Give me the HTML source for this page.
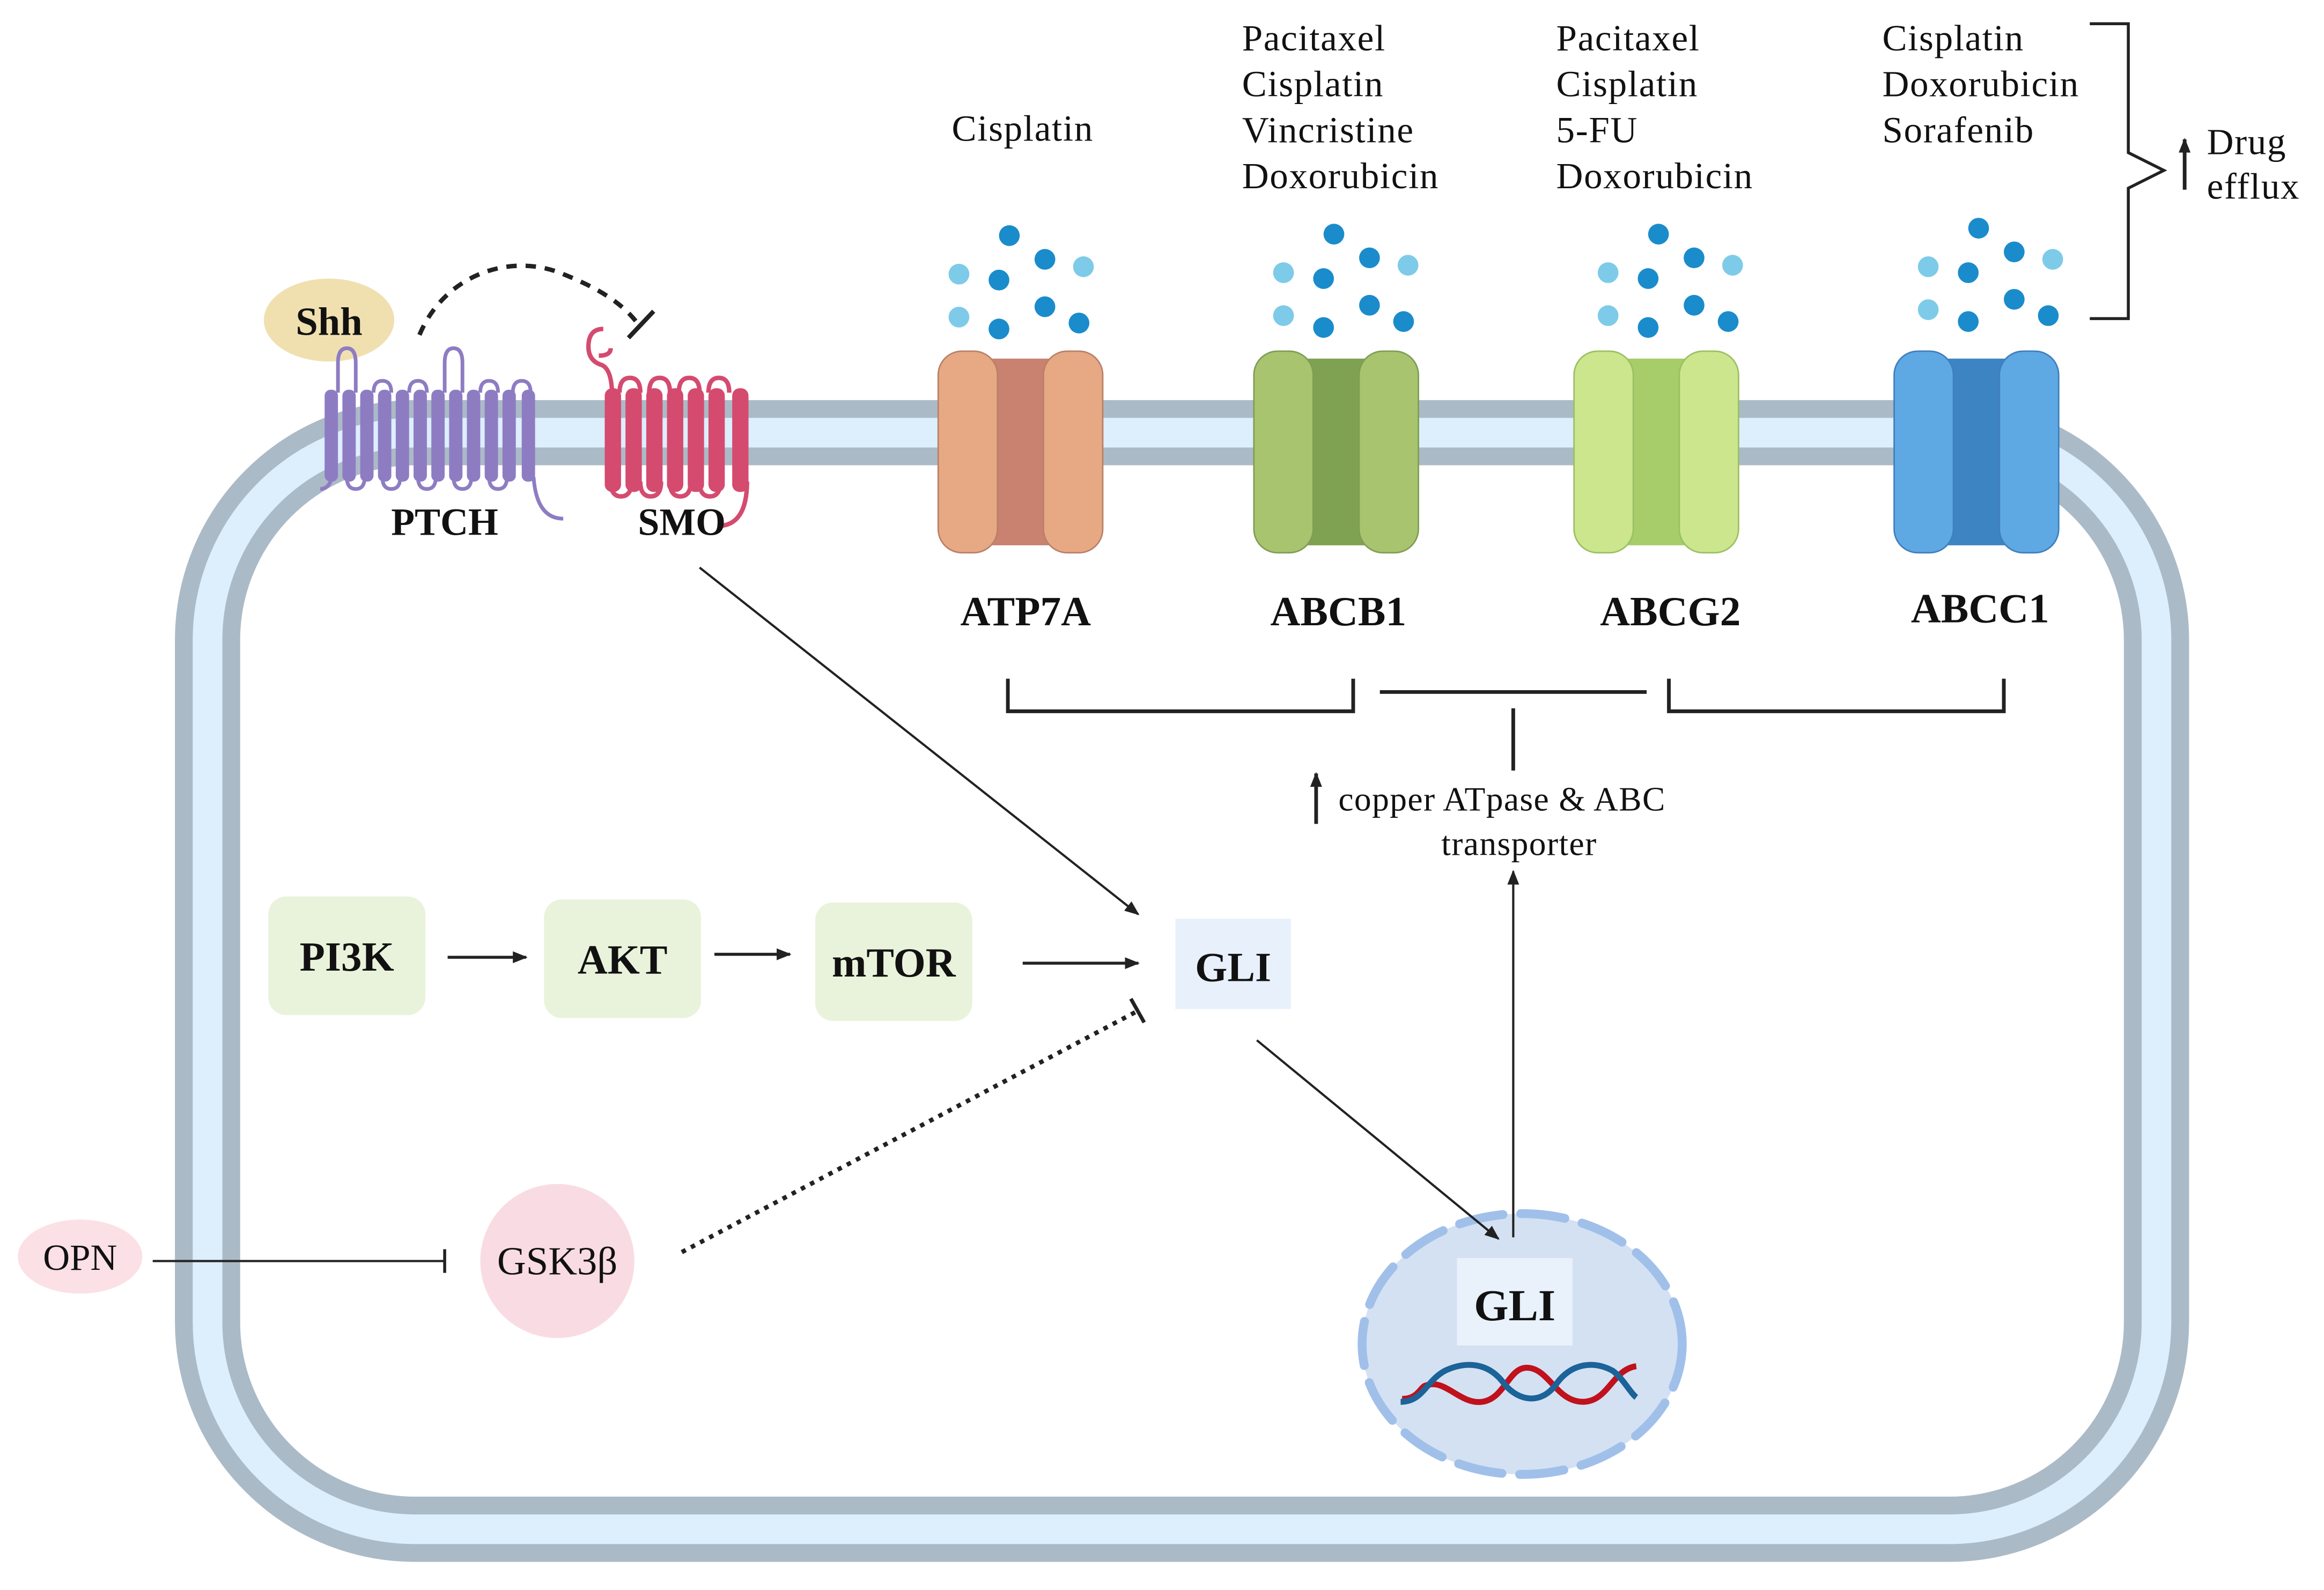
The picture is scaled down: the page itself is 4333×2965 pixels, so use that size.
<!DOCTYPE html>
<html><head><meta charset="utf-8"><style>
html,body{margin:0;padding:0;background:#fff}
svg{display:block}
text{font-family:"Liberation Serif",serif;fill:#111}
</style></head><body>
<svg width="4333" height="2965" viewBox="0 0 1568 1073" xmlns="http://www.w3.org/2000/svg">
<defs>
<marker id="ah" markerWidth="10" markerHeight="10" refX="9" refY="5" orient="auto" markerUnits="userSpaceOnUse"><path d="M0,1 L10,5 L0,9 z" fill="#222"/></marker>
</defs>
<!-- cell membrane -->
<rect x="140" y="292" width="1315" height="740" rx="140" fill="#fff" stroke="#abbac7" stroke-width="44"/>
<rect x="140" y="292" width="1315" height="740" rx="140" fill="none" stroke="#ddeefc" stroke-width="20"/>

<!-- Shh -->
<ellipse cx="222" cy="216" rx="44" ry="28" fill="#f0e0b0"/>
<text x="222" y="226" font-size="27" font-weight="bold" text-anchor="middle">Shh</text>
<path d="M283,226 C300,185 345,170 380,185 C405,195 420,205 430,218" fill="none" stroke="#222" stroke-width="3" stroke-dasharray="7,6"/>
<line x1="424" y1="228" x2="441" y2="210" stroke="#222" stroke-width="3"/>

<!-- PTCH -->
<g stroke="#8e7cc3" fill="none" stroke-width="2.5">
<path d="M216,330 q6,0 8,-8 M228,245 q0,-10 6,-10 q6,0 6,10 M252,265 q0,-8 6,-8 q6,0 6,8 M276,265 q0,-8 6,-8 q6,0 6,8 M300,245 q0,-10 6,-10 q6,0 6,10 M324,265 q0,-8 6,-8 q6,0 6,8 M346,265 q0,-8 6,-8 q6,0 6,8"/>
<path d="M234,322 q0,8 6,8 q6,0 6,-8 M258,322 q0,8 6,8 q6,0 6,-8 M282,322 q0,8 6,8 q6,0 6,-8 M306,322 q0,8 6,8 q6,0 6,-8 M330,322 q0,8 6,8 q6,0 6,-8"/>
<path d="M360,322 q2,28 20,28"/>
<path d="M228,245 v20 M240,245 v20 M300,245 v20 M312,245 v20"/>
</g>
<g fill="#8e7cc3">
<rect x="219" y="263" width="9" height="62" rx="4"/><rect x="231" y="263" width="9" height="62" rx="4"/><rect x="243" y="263" width="9" height="62" rx="4"/><rect x="255" y="263" width="9" height="62" rx="4"/><rect x="267" y="263" width="9" height="62" rx="4"/><rect x="279" y="263" width="9" height="62" rx="4"/><rect x="291" y="263" width="9" height="62" rx="4"/><rect x="303" y="263" width="9" height="62" rx="4"/><rect x="315" y="263" width="9" height="62" rx="4"/><rect x="327" y="263" width="9" height="62" rx="4"/><rect x="339" y="263" width="9" height="62" rx="4"/><rect x="352" y="263" width="9" height="62" rx="4"/>
</g>
<text x="300" y="361" font-size="26" font-weight="bold" text-anchor="middle">PTCH</text>

<!-- SMO -->
<g stroke="#d44b6f" fill="none" stroke-width="3">
<path d="M413,268 q0,-20 -8,-22 q-8,-3 -8,-12 q0,-12 10,-12 M404,240 q8,0 8,-5"/>
<path d="M418,265 q0,-10 7,-10 q7,0 7,10 M438,265 q0,-10 7,-10 q7,0 7,10 M458,265 q0,-10 7,-10 q7,0 7,10 M478,265 q0,-10 7,-10 q7,0 7,10"/>
<path d="M412,325 q0,10 7,10 q7,0 7,-10 M432,325 q0,10 7,10 q7,0 7,-10 M452,325 q0,10 7,10 q7,0 7,-10 M472,325 q0,10 7,10 q7,0 7,-10 M504,325 q0,30 -20,30"/>
</g>
<g fill="#d44b6f">
<rect x="408" y="262" width="11" height="70" rx="5"/><rect x="422" y="262" width="11" height="70" rx="5"/><rect x="436" y="262" width="11" height="70" rx="5"/><rect x="450" y="262" width="11" height="70" rx="5"/><rect x="464" y="262" width="11" height="70" rx="5"/><rect x="478" y="262" width="11" height="70" rx="5"/><rect x="494" y="262" width="11" height="70" rx="5"/>
</g>
<text x="460" y="361" font-size="26" font-weight="bold" text-anchor="middle">SMO</text>

<!-- transporters -->
<g>
<rect x="665" y="242" width="46" height="126" fill="#c98170"/>
<rect x="633" y="237" width="40" height="136" rx="16" fill="#e7a984" stroke="#b98068" stroke-width="1"/>
<rect x="704" y="237" width="40" height="136" rx="16" fill="#e7a984" stroke="#b98068" stroke-width="1"/>
</g>
<g>
<rect x="878" y="242" width="46" height="126" fill="#7ea152"/>
<rect x="846" y="237" width="40" height="136" rx="16" fill="#a8c46f" stroke="#809d55" stroke-width="1"/>
<rect x="917" y="237" width="40" height="136" rx="16" fill="#a8c46f" stroke="#809d55" stroke-width="1"/>
</g>
<g>
<rect x="1094" y="242" width="46" height="126" fill="#a6cd6a"/>
<rect x="1062" y="237" width="40" height="136" rx="16" fill="#cbe68d" stroke="#9cbf63" stroke-width="1"/>
<rect x="1133" y="237" width="40" height="136" rx="16" fill="#cbe68d" stroke="#9cbf63" stroke-width="1"/>
</g>
<g>
<rect x="1310" y="242" width="46" height="126" fill="#3d84c3"/>
<rect x="1278" y="237" width="40" height="136" rx="16" fill="#5ea8e3" stroke="#3f7fbd" stroke-width="1"/>
<rect x="1349" y="237" width="40" height="136" rx="16" fill="#5ea8e3" stroke="#3f7fbd" stroke-width="1"/>
</g>

<!-- dots -->
<g id="dots">
<circle cx="681" cy="159" r="7" fill="#1a8ccc"/><circle cx="647" cy="185" r="7" fill="#7dcbe8"/><circle cx="674" cy="189" r="7" fill="#1a8ccc"/><circle cx="705" cy="175" r="7" fill="#1a8ccc"/><circle cx="731" cy="180" r="7" fill="#7dcbe8"/><circle cx="647" cy="214" r="7" fill="#7dcbe8"/><circle cx="674" cy="222" r="7" fill="#1a8ccc"/><circle cx="705" cy="207" r="7" fill="#1a8ccc"/><circle cx="728" cy="218" r="7" fill="#1a8ccc"/>
</g>
<use href="#dots" x="219" y="-1"/>
<use href="#dots" x="438" y="-1"/>
<use href="#dots" x="654" y="-5"/>

<!-- drug lists -->
<g font-size="25" letter-spacing="0.6">
<text x="690" y="95" text-anchor="middle">Cisplatin</text>
<text x="838" y="34">Pacitaxel</text><text x="838" y="65">Cisplatin</text><text x="838" y="96">Vincristine</text><text x="838" y="127">Doxorubicin</text>
<text x="1050" y="34">Pacitaxel</text><text x="1050" y="65">Cisplatin</text><text x="1050" y="96">5-FU</text><text x="1050" y="127">Doxorubicin</text>
<text x="1270" y="34">Cisplatin</text><text x="1270" y="65">Doxorubicin</text><text x="1270" y="96">Sorafenib</text>
<text x="1489" y="104">Drug</text><text x="1489" y="134">efflux</text>
</g>
<path d="M1410,16 H1436 V103 L1460,115 L1436,127 V215 H1410" fill="none" stroke="#222" stroke-width="2"/>
<line x1="1474" y1="128" x2="1474" y2="94" stroke="#222" stroke-width="2.5" marker-end="url(#ah)"/>

<!-- transporter labels -->
<g font-size="28" font-weight="bold" text-anchor="middle">
<text x="692" y="422">ATP7A</text><text x="903" y="422">ABCB1</text><text x="1127" y="422">ABCG2</text><text x="1336" y="420">ABCC1</text>
</g>
<path d="M680,458 V480 H913 V458 M1126,458 V480 H1352 V458" fill="none" stroke="#222" stroke-width="2.5"/>
<line x1="931" y1="467" x2="1111" y2="467" stroke="#222" stroke-width="2.5"/>
<line x1="1021" y1="478" x2="1021" y2="520" stroke="#222" stroke-width="2.5"/>
<line x1="888" y1="556" x2="888" y2="522" stroke="#222" stroke-width="2.5" marker-end="url(#ah)"/>
<text x="903" y="547" font-size="23" letter-spacing="0.5">copper ATpase &amp; ABC</text>
<text x="1025" y="577" font-size="23" letter-spacing="0.5" text-anchor="middle">transporter</text>

<!-- pathway -->
<rect x="181" y="605" width="106" height="80" rx="12" fill="#e9f3dc"/>
<rect x="367" y="607" width="106" height="80" rx="12" fill="#e9f3dc"/>
<rect x="550" y="609" width="106" height="80" rx="12" fill="#e9f3dc"/>
<rect x="793" y="620" width="78" height="61" fill="#e8f1fb"/>
<g font-size="28" text-anchor="middle" font-weight="bold">
<text x="234" y="655">PI3K</text><text x="420" y="657">AKT</text><text x="603" y="659">mTOR</text><text x="832" y="662">GLI</text>
</g>

<!-- OPN / GSK3b -->
<ellipse cx="54" cy="848" rx="42" ry="25" fill="#fbe0e6"/>
<text x="54" y="857" font-size="25" text-anchor="middle">OPN</text>
<line x1="103" y1="851" x2="300" y2="851" stroke="#222" stroke-width="1.5"/>
<line x1="300" y1="843" x2="300" y2="859" stroke="#222" stroke-width="2"/>
<circle cx="376" cy="851" r="52" fill="#f9dce3"/>
<text x="376" y="860" font-size="27" text-anchor="middle">GSK3β</text>

<!-- nucleus -->
<ellipse cx="1027" cy="907" rx="108" ry="88" fill="#d4e1f2" stroke="#a0c0ea" stroke-width="6" stroke-dasharray="30,12" stroke-linecap="round"/>
<rect x="983" y="849" width="78" height="59" fill="#e9f1fb"/>
<text x="1022" y="891" font-size="30" font-weight="bold" text-anchor="middle">GLI</text>
<path d="M946,944 C957,944 958,936 962,935 C975,930 985,948 1000,946 C1015,944 1018,923 1030,923 C1045,923 1050,946 1068,946 C1085,946 1088,924 1104,922" fill="none" stroke="#c0111c" stroke-width="4"/>
<path d="M945,946 C960,946 962,932 975,925 C990,918 1005,920 1015,934 C1025,946 1040,948 1050,934 C1060,920 1075,918 1088,925 C1095,930 1100,940 1104,943" fill="none" stroke="#1b6398" stroke-width="4"/>

<!-- connectors -->
<g stroke="#222" stroke-width="2" marker-end="url(#ah)">
<line x1="302" y1="646" x2="355" y2="646"/>
<line x1="482" y1="644" x2="533" y2="644"/>
<line x1="690" y1="650" x2="768" y2="650"/>
<line x1="472" y1="383" x2="768" y2="617" stroke-width="1.5"/>
<line x1="848" y1="702" x2="1011" y2="836" stroke-width="1.5"/>
<line x1="1021" y1="835" x2="1021" y2="588" stroke-width="1.5"/>
</g>
<line x1="460" y1="845" x2="768" y2="682" stroke="#222" stroke-width="3" stroke-dasharray="3,4"/>
<line x1="763" y1="674" x2="772" y2="690" stroke="#222" stroke-width="2.5"/>
</svg>
</body></html>
